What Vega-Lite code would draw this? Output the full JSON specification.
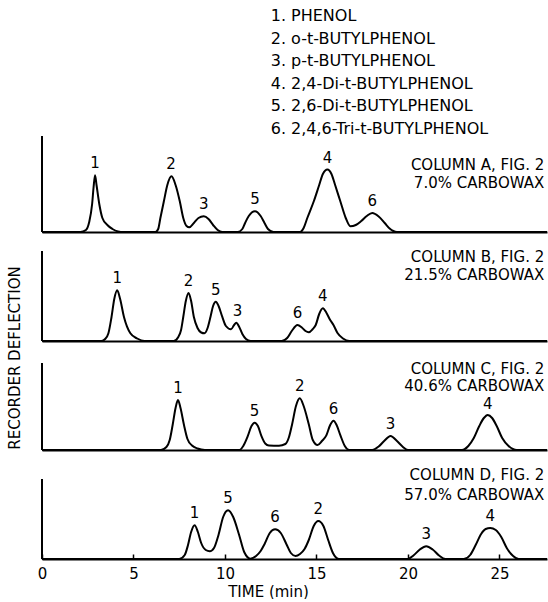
{
  "$schema": "https://vega.github.io/schema/vega-lite/v6.json",
  "padding": {"left": 8, "top": 8, "right": 0, "bottom": 0},
  "bounds": "flush",
  "spacing": 7,
  "config": {
    "view": {"stroke": null},
    "font": "DejaVu Sans",
    "text": {"font": "DejaVu Sans", "fontSize": 15, "color": "black"},
    "axis": {"domainColor": "black", "domainWidth": 2, "grid": false, "labelColor": "black", "titleColor": "black", "labelFont": "DejaVu Sans", "titleFont": "DejaVu Sans", "labelFontSize": 15, "titleFontSize": 15, "titleFontWeight": "normal"},
    "title": {"font": "DejaVu Sans", "fontSize": 15, "fontWeight": "normal", "color": "black"}
  },
  "datasets": {
    "legend": [
      {"n": 1, "label": "1.  PHENOL"},
      {"n": 2, "label": "2.  o-t-BUTYLPHENOL"},
      {"n": 3, "label": "3.  p-t-BUTYLPHENOL"},
      {"n": 4, "label": "4.  2,4-Di-t-BUTYLPHENOL"},
      {"n": 5, "label": "5.  2,6-Di-t-BUTYLPHENOL"},
      {"n": 6, "label": "6.  2,4,6-Tri-t-BUTYLPHENOL"}
    ],
    "trace": [
      {"p": "A", "t": 0, "h": 0}, {"p": "A", "t": 2.1, "h": 0}, {"p": "A", "t": 2.4, "h": 2}, {"p": "A", "t": 2.58, "h": 10}, {"p": "A", "t": 2.74, "h": 28}, {"p": "A", "t": 2.82, "h": 45}, {"p": "A", "t": 2.9, "h": 56.7}, {"p": "A", "t": 2.98, "h": 47}, {"p": "A", "t": 3.13, "h": 28}, {"p": "A", "t": 3.3, "h": 14}, {"p": "A", "t": 3.57, "h": 7}, {"p": "A", "t": 3.85, "h": 3}, {"p": "A", "t": 4.15, "h": 0.5}, {"p": "A", "t": 4.3, "h": 0},
      {"p": "A", "t": 6.2, "h": 0}, {"p": "A", "t": 6.35, "h": 3}, {"p": "A", "t": 6.47, "h": 14}, {"p": "A", "t": 6.66, "h": 30.7}, {"p": "A", "t": 6.85, "h": 47}, {"p": "A", "t": 7.08, "h": 55.7}, {"p": "A", "t": 7.3, "h": 47}, {"p": "A", "t": 7.53, "h": 30.7}, {"p": "A", "t": 7.72, "h": 14}, {"p": "A", "t": 7.9, "h": 6}, {"p": "A", "t": 8.05, "h": 4.7},
      {"p": "A", "t": 8.3, "h": 9}, {"p": "A", "t": 8.55, "h": 14}, {"p": "A", "t": 8.84, "h": 15.7}, {"p": "A", "t": 9.1, "h": 13}, {"p": "A", "t": 9.35, "h": 7}, {"p": "A", "t": 9.6, "h": 2}, {"p": "A", "t": 9.85, "h": 0},
      {"p": "A", "t": 10.7, "h": 0}, {"p": "A", "t": 10.95, "h": 3}, {"p": "A", "t": 11.1, "h": 9}, {"p": "A", "t": 11.3, "h": 16}, {"p": "A", "t": 11.64, "h": 20.7}, {"p": "A", "t": 11.95, "h": 16}, {"p": "A", "t": 12.16, "h": 9}, {"p": "A", "t": 12.35, "h": 3}, {"p": "A", "t": 12.65, "h": 0},
      {"p": "A", "t": 14.1, "h": 0}, {"p": "A", "t": 14.3, "h": 4}, {"p": "A", "t": 14.5, "h": 14}, {"p": "A", "t": 14.86, "h": 31}, {"p": "A", "t": 15.15, "h": 47}, {"p": "A", "t": 15.35, "h": 58}, {"p": "A", "t": 15.6, "h": 62.4}, {"p": "A", "t": 15.82, "h": 58}, {"p": "A", "t": 16.02, "h": 47}, {"p": "A", "t": 16.3, "h": 31}, {"p": "A", "t": 16.6, "h": 14}, {"p": "A", "t": 16.85, "h": 5.7},
      {"p": "A", "t": 17.15, "h": 7}, {"p": "A", "t": 17.45, "h": 11}, {"p": "A", "t": 17.75, "h": 16}, {"p": "A", "t": 18.05, "h": 19}, {"p": "A", "t": 18.4, "h": 15.5}, {"p": "A", "t": 18.73, "h": 9}, {"p": "A", "t": 19.0, "h": 3.5}, {"p": "A", "t": 19.2, "h": 1}, {"p": "A", "t": 19.4, "h": 0}, {"p": "A", "t": 27.6, "h": 0},

      {"p": "B", "t": 0, "h": 0}, {"p": "B", "t": 3.25, "h": 0}, {"p": "B", "t": 3.45, "h": 2}, {"p": "B", "t": 3.63, "h": 7.7}, {"p": "B", "t": 3.8, "h": 24}, {"p": "B", "t": 3.95, "h": 42}, {"p": "B", "t": 4.11, "h": 50.7}, {"p": "B", "t": 4.27, "h": 42}, {"p": "B", "t": 4.48, "h": 24}, {"p": "B", "t": 4.83, "h": 7.7}, {"p": "B", "t": 5.2, "h": 2.5}, {"p": "B", "t": 5.6, "h": 0},
      {"p": "B", "t": 7.2, "h": 0}, {"p": "B", "t": 7.45, "h": 4}, {"p": "B", "t": 7.6, "h": 11}, {"p": "B", "t": 7.72, "h": 24}, {"p": "B", "t": 7.86, "h": 40}, {"p": "B", "t": 8.01, "h": 48}, {"p": "B", "t": 8.15, "h": 40}, {"p": "B", "t": 8.3, "h": 24}, {"p": "B", "t": 8.5, "h": 13}, {"p": "B", "t": 8.7, "h": 8.5}, {"p": "B", "t": 8.88, "h": 7.7},
      {"p": "B", "t": 9.05, "h": 13}, {"p": "B", "t": 9.21, "h": 24.3}, {"p": "B", "t": 9.35, "h": 35}, {"p": "B", "t": 9.5, "h": 39.3}, {"p": "B", "t": 9.65, "h": 35}, {"p": "B", "t": 9.85, "h": 24.3}, {"p": "B", "t": 10.05, "h": 15}, {"p": "B", "t": 10.33, "h": 11.7},
      {"p": "B", "t": 10.5, "h": 16}, {"p": "B", "t": 10.62, "h": 18.3}, {"p": "B", "t": 10.78, "h": 14}, {"p": "B", "t": 10.95, "h": 7}, {"p": "B", "t": 11.15, "h": 2}, {"p": "B", "t": 11.4, "h": 0},
      {"p": "B", "t": 13.1, "h": 0}, {"p": "B", "t": 13.4, "h": 3}, {"p": "B", "t": 13.65, "h": 10}, {"p": "B", "t": 13.96, "h": 16}, {"p": "B", "t": 14.2, "h": 13.5}, {"p": "B", "t": 14.4, "h": 10}, {"p": "B", "t": 14.58, "h": 8.7},
      {"p": "B", "t": 14.8, "h": 12}, {"p": "B", "t": 14.96, "h": 16}, {"p": "B", "t": 15.15, "h": 27}, {"p": "B", "t": 15.35, "h": 32.7}, {"p": "B", "t": 15.55, "h": 28}, {"p": "B", "t": 15.75, "h": 21}, {"p": "B", "t": 15.93, "h": 16}, {"p": "B", "t": 16.15, "h": 8}, {"p": "B", "t": 16.45, "h": 2.5}, {"p": "B", "t": 16.8, "h": 0}, {"p": "B", "t": 27.6, "h": 0},

      {"p": "C", "t": 0, "h": 0}, {"p": "C", "t": 6.5, "h": 0}, {"p": "C", "t": 6.8, "h": 3}, {"p": "C", "t": 6.98, "h": 10}, {"p": "C", "t": 7.14, "h": 25}, {"p": "C", "t": 7.3, "h": 42}, {"p": "C", "t": 7.43, "h": 50}, {"p": "C", "t": 7.57, "h": 42}, {"p": "C", "t": 7.76, "h": 25}, {"p": "C", "t": 7.95, "h": 11}, {"p": "C", "t": 8.2, "h": 4.5}, {"p": "C", "t": 8.5, "h": 1.5}, {"p": "C", "t": 8.9, "h": 0},
      {"p": "C", "t": 10.8, "h": 0}, {"p": "C", "t": 11.0, "h": 4}, {"p": "C", "t": 11.24, "h": 13.6}, {"p": "C", "t": 11.45, "h": 24}, {"p": "C", "t": 11.62, "h": 27.3}, {"p": "C", "t": 11.8, "h": 24}, {"p": "C", "t": 12.0, "h": 13.6}, {"p": "C", "t": 12.2, "h": 6.5}, {"p": "C", "t": 12.4, "h": 4.5}, {"p": "C", "t": 12.95, "h": 4.3},
      {"p": "C", "t": 13.3, "h": 6}, {"p": "C", "t": 13.5, "h": 13}, {"p": "C", "t": 13.67, "h": 25.8}, {"p": "C", "t": 13.88, "h": 44}, {"p": "C", "t": 14.09, "h": 51.7}, {"p": "C", "t": 14.3, "h": 44}, {"p": "C", "t": 14.58, "h": 25.8}, {"p": "C", "t": 14.8, "h": 10}, {"p": "C", "t": 15.06, "h": 5},
      {"p": "C", "t": 15.3, "h": 9}, {"p": "C", "t": 15.54, "h": 14.6}, {"p": "C", "t": 15.75, "h": 25}, {"p": "C", "t": 15.93, "h": 29.3}, {"p": "C", "t": 16.1, "h": 25}, {"p": "C", "t": 16.31, "h": 14.6}, {"p": "C", "t": 16.55, "h": 4}, {"p": "C", "t": 16.8, "h": 0},
      {"p": "C", "t": 18.05, "h": 0}, {"p": "C", "t": 18.4, "h": 3.5}, {"p": "C", "t": 18.7, "h": 9}, {"p": "C", "t": 19.05, "h": 14}, {"p": "C", "t": 19.4, "h": 9}, {"p": "C", "t": 19.7, "h": 3.5}, {"p": "C", "t": 20.0, "h": 0},
      {"p": "C", "t": 22.95, "h": 0}, {"p": "C", "t": 23.3, "h": 4}, {"p": "C", "t": 23.6, "h": 12}, {"p": "C", "t": 23.9, "h": 24}, {"p": "C", "t": 24.15, "h": 32}, {"p": "C", "t": 24.36, "h": 35}, {"p": "C", "t": 24.6, "h": 32}, {"p": "C", "t": 24.85, "h": 24}, {"p": "C", "t": 25.15, "h": 12}, {"p": "C", "t": 25.5, "h": 4}, {"p": "C", "t": 25.95, "h": 0}, {"p": "C", "t": 27.6, "h": 0},

      {"p": "D", "t": 0, "h": 0}, {"p": "D", "t": 7.5, "h": 0}, {"p": "D", "t": 7.8, "h": 4}, {"p": "D", "t": 7.98, "h": 14}, {"p": "D", "t": 8.15, "h": 27}, {"p": "D", "t": 8.34, "h": 33.7}, {"p": "D", "t": 8.52, "h": 27}, {"p": "D", "t": 8.7, "h": 16}, {"p": "D", "t": 8.95, "h": 9}, {"p": "D", "t": 9.17, "h": 7.7},
      {"p": "D", "t": 9.4, "h": 11}, {"p": "D", "t": 9.65, "h": 24.3}, {"p": "D", "t": 9.9, "h": 42}, {"p": "D", "t": 10.17, "h": 48.7}, {"p": "D", "t": 10.45, "h": 42}, {"p": "D", "t": 10.77, "h": 24.3}, {"p": "D", "t": 11.05, "h": 7}, {"p": "D", "t": 11.39, "h": 0.3},
      {"p": "D", "t": 11.7, "h": 3}, {"p": "D", "t": 11.95, "h": 8}, {"p": "D", "t": 12.16, "h": 14.8}, {"p": "D", "t": 12.45, "h": 26}, {"p": "D", "t": 12.74, "h": 29.7}, {"p": "D", "t": 13.05, "h": 26}, {"p": "D", "t": 13.36, "h": 14.8}, {"p": "D", "t": 13.6, "h": 6}, {"p": "D", "t": 13.86, "h": 3},
      {"p": "D", "t": 14.1, "h": 5}, {"p": "D", "t": 14.35, "h": 10}, {"p": "D", "t": 14.58, "h": 19}, {"p": "D", "t": 14.85, "h": 33}, {"p": "D", "t": 15.1, "h": 38}, {"p": "D", "t": 15.38, "h": 33}, {"p": "D", "t": 15.64, "h": 19}, {"p": "D", "t": 15.9, "h": 6}, {"p": "D", "t": 16.22, "h": 0},
      {"p": "D", "t": 20.0, "h": 0}, {"p": "D", "t": 20.3, "h": 3.5}, {"p": "D", "t": 20.65, "h": 9.5}, {"p": "D", "t": 21.0, "h": 12.7}, {"p": "D", "t": 21.35, "h": 9.5}, {"p": "D", "t": 21.7, "h": 3.5}, {"p": "D", "t": 22.05, "h": 0},
      {"p": "D", "t": 23.05, "h": 0}, {"p": "D", "t": 23.4, "h": 4}, {"p": "D", "t": 23.7, "h": 14}, {"p": "D", "t": 24.0, "h": 25}, {"p": "D", "t": 24.25, "h": 30}, {"p": "D", "t": 24.5, "h": 31}, {"p": "D", "t": 24.8, "h": 29}, {"p": "D", "t": 25.1, "h": 22}, {"p": "D", "t": 25.4, "h": 11}, {"p": "D", "t": 25.75, "h": 3}, {"p": "D", "t": 26.05, "h": 0}, {"p": "D", "t": 27.6, "h": 0}
    ],
    "peaks": [
      {"p": "A", "label": "1", "t": 2.9, "h": 56.7}, {"p": "A", "label": "2", "t": 7.05, "h": 55.7}, {"p": "A", "label": "3", "t": 8.84, "h": 15.7}, {"p": "A", "label": "5", "t": 11.64, "h": 20.7}, {"p": "A", "label": "4", "t": 15.6, "h": 62.4}, {"p": "A", "label": "6", "t": 18.05, "h": 19},
      {"p": "B", "label": "1", "t": 4.11, "h": 50.7}, {"p": "B", "label": "2", "t": 8.01, "h": 48}, {"p": "B", "label": "5", "t": 9.5, "h": 39.3}, {"p": "B", "label": "3", "t": 10.68, "h": 18.3}, {"p": "B", "label": "6", "t": 13.96, "h": 16}, {"p": "B", "label": "4", "t": 15.35, "h": 32.7},
      {"p": "C", "label": "1", "t": 7.43, "h": 50}, {"p": "C", "label": "5", "t": 11.62, "h": 27.3}, {"p": "C", "label": "2", "t": 14.09, "h": 51.7}, {"p": "C", "label": "6", "t": 15.93, "h": 29.3}, {"p": "C", "label": "3", "t": 19.05, "h": 14}, {"p": "C", "label": "4", "t": 24.36, "h": 34}, 
      {"p": "D", "label": "1", "t": 8.34, "h": 33.7}, {"p": "D", "label": "5", "t": 10.17, "h": 48.7}, {"p": "D", "label": "6", "t": 12.74, "h": 29.7}, {"p": "D", "label": "2", "t": 15.1, "h": 38}, {"p": "D", "label": "3", "t": 21.0, "h": 12.7}, {"p": "D", "label": "4", "t": 24.5, "h": 31}
    ],
    "notes": [
      {"p": "A", "text": "COLUMN A, FIG. 2", "h": 67.4}, {"p": "A", "text": "7.0% CARBOWAX", "h": 49},
      {"p": "B", "text": "COLUMN B, FIG. 2", "h": 84.3}, {"p": "B", "text": "21.5% CARBOWAX", "h": 66},
      {"p": "C", "text": "COLUMN C, FIG. 2", "h": 81.5}, {"p": "C", "text": "40.6% CARBOWAX", "h": 64}, 
      {"p": "D", "text": "COLUMN D, FIG. 2", "h": 83.7}, {"p": "D", "text": "57.0% CARBOWAX", "h": 63.7}
    ],
    "frame": [
      {"p": "A", "top": 96}, {"p": "B", "top": 90}, {"p": "C", "top": 87}, {"p": "D", "top": 80}
    ]
  },
  "vconcat": [
    {
      "width": 505,
      "height": 112.5,
      "data": {"name": "legend"},
      "mark": {"type": "text", "align": "left", "baseline": "middle", "fontSize": 16},
      "encoding": {
        "x": {"datum": 12.5, "type": "quantitative", "scale": {"domain": [0, 27.6], "nice": false, "zero": false}, "axis": null},
        "y": {"field": "n", "type": "ordinal", "axis": null, "scale": {"type": "point", "padding": 0}},
        "text": {"field": "label", "type": "nominal"}
      }
    },
    {
      "title": {"text": "RECORDER DEFLECTION", "orient": "left", "anchor": "middle", "offset": 14, "dx": 9},
      "bounds": "flush",
      "spacing": 13,
      "vconcat": [
        {
          "width": 505, "height": 96,
          "layer": [
            {"data": {"name": "trace"}, "transform": [{"filter": "datum.p === 'A'"}], "mark": {"type": "line", "interpolate": "monotone", "color": "black", "strokeWidth": 2},
             "encoding": {"x": {"field": "t", "type": "quantitative", "scale": {"domain": [0, 27.6], "nice": false, "zero": false}, "axis": {"title": null, "labels": false, "ticks": false}}, "y": {"field": "h", "type": "quantitative", "scale": {"domain": [0, 96], "nice": false}, "axis": null}}},
            {"data": {"name": "frame"}, "transform": [{"filter": "datum.p === 'A'"}], "mark": {"type": "rule", "color": "black", "strokeWidth": 2},
             "encoding": {"x": {"datum": 0, "type": "quantitative"}, "y": {"field": "top", "type": "quantitative"}, "y2": {"datum": 0}}},
            {"data": {"name": "peaks"}, "transform": [{"filter": "datum.p === 'A'"}], "mark": {"type": "text", "baseline": "middle", "dy": -12},
             "encoding": {"x": {"field": "t", "type": "quantitative"}, "y": {"field": "h", "type": "quantitative"}, "text": {"field": "label", "type": "nominal"}}},
            {"data": {"name": "notes"}, "transform": [{"filter": "datum.p === 'A'"}], "mark": {"type": "text", "align": "right", "baseline": "middle"},
             "encoding": {"x": {"datum": 27.45, "type": "quantitative"}, "y": {"field": "h", "type": "quantitative"}, "text": {"field": "text", "type": "nominal"}}}
          ]
        },
        {
          "width": 505, "height": 96,
          "layer": [
            {"data": {"name": "trace"}, "transform": [{"filter": "datum.p === 'B'"}], "mark": {"type": "line", "interpolate": "monotone", "color": "black", "strokeWidth": 2},
             "encoding": {"x": {"field": "t", "type": "quantitative", "scale": {"domain": [0, 27.6], "nice": false, "zero": false}, "axis": {"title": null, "labels": false, "ticks": false}}, "y": {"field": "h", "type": "quantitative", "scale": {"domain": [0, 96], "nice": false}, "axis": null}}},
            {"data": {"name": "frame"}, "transform": [{"filter": "datum.p === 'B'"}], "mark": {"type": "rule", "color": "black", "strokeWidth": 2},
             "encoding": {"x": {"datum": 0, "type": "quantitative"}, "y": {"field": "top", "type": "quantitative"}, "y2": {"datum": 0}}},
            {"data": {"name": "peaks"}, "transform": [{"filter": "datum.p === 'B'"}], "mark": {"type": "text", "baseline": "middle", "dy": -12},
             "encoding": {"x": {"field": "t", "type": "quantitative"}, "y": {"field": "h", "type": "quantitative"}, "text": {"field": "label", "type": "nominal"}}},
            {"data": {"name": "notes"}, "transform": [{"filter": "datum.p === 'B'"}], "mark": {"type": "text", "align": "right", "baseline": "middle"},
             "encoding": {"x": {"datum": 27.45, "type": "quantitative"}, "y": {"field": "h", "type": "quantitative"}, "text": {"field": "text", "type": "nominal"}}}
          ]
        },
        {
          "width": 505, "height": 96,
          "layer": [
            {"data": {"name": "trace"}, "transform": [{"filter": "datum.p === 'C'"}], "mark": {"type": "line", "interpolate": "monotone", "color": "black", "strokeWidth": 2},
             "encoding": {"x": {"field": "t", "type": "quantitative", "scale": {"domain": [0, 27.6], "nice": false, "zero": false}, "axis": {"title": null, "labels": false, "ticks": false}}, "y": {"field": "h", "type": "quantitative", "scale": {"domain": [0, 96], "nice": false}, "axis": null}}},
            {"data": {"name": "frame"}, "transform": [{"filter": "datum.p === 'C'"}], "mark": {"type": "rule", "color": "black", "strokeWidth": 2},
             "encoding": {"x": {"datum": 0, "type": "quantitative"}, "y": {"field": "top", "type": "quantitative"}, "y2": {"datum": 0}}},
            {"data": {"name": "peaks"}, "transform": [{"filter": "datum.p === 'C'"}], "mark": {"type": "text", "baseline": "middle", "dy": -12},
             "encoding": {"x": {"field": "t", "type": "quantitative"}, "y": {"field": "h", "type": "quantitative"}, "text": {"field": "label", "type": "nominal"}}},
            {"data": {"name": "notes"}, "transform": [{"filter": "datum.p === 'C'"}], "mark": {"type": "text", "align": "right", "baseline": "middle"},
             "encoding": {"x": {"datum": 27.45, "type": "quantitative"}, "y": {"field": "h", "type": "quantitative"}, "text": {"field": "text", "type": "nominal"}}}
          ]
        },
        {
          "width": 505, "height": 96,
          "layer": [
            {"data": {"name": "trace"}, "transform": [{"filter": "datum.p === 'D'"}], "mark": {"type": "line", "interpolate": "monotone", "color": "black", "strokeWidth": 2},
             "encoding": {"x": {"field": "t", "type": "quantitative", "scale": {"domain": [0, 27.6], "nice": false, "zero": false}, "axis": {"title": "TIME (min)", "values": [0, 5, 10, 15, 20, 25], "tickSize": -5, "tickColor": "black", "tickWidth": 1.5, "labelPadding": 12, "labelFlush": false, "titlePadding": 3, "titleX": 226}}, "y": {"field": "h", "type": "quantitative", "scale": {"domain": [0, 96], "nice": false}, "axis": null}}},
            {"data": {"name": "frame"}, "transform": [{"filter": "datum.p === 'D'"}], "mark": {"type": "rule", "color": "black", "strokeWidth": 2},
             "encoding": {"x": {"datum": 0, "type": "quantitative"}, "y": {"field": "top", "type": "quantitative"}, "y2": {"datum": 0}}},
            {"data": {"name": "peaks"}, "transform": [{"filter": "datum.p === 'D'"}], "mark": {"type": "text", "baseline": "middle", "dy": -12},
             "encoding": {"x": {"field": "t", "type": "quantitative"}, "y": {"field": "h", "type": "quantitative"}, "text": {"field": "label", "type": "nominal"}}},
            {"data": {"name": "notes"}, "transform": [{"filter": "datum.p === 'D'"}], "mark": {"type": "text", "align": "right", "baseline": "middle"},
             "encoding": {"x": {"datum": 27.45, "type": "quantitative"}, "y": {"field": "h", "type": "quantitative"}, "text": {"field": "text", "type": "nominal"}}}
          ]
        }
      ]
    }
  ]
}
